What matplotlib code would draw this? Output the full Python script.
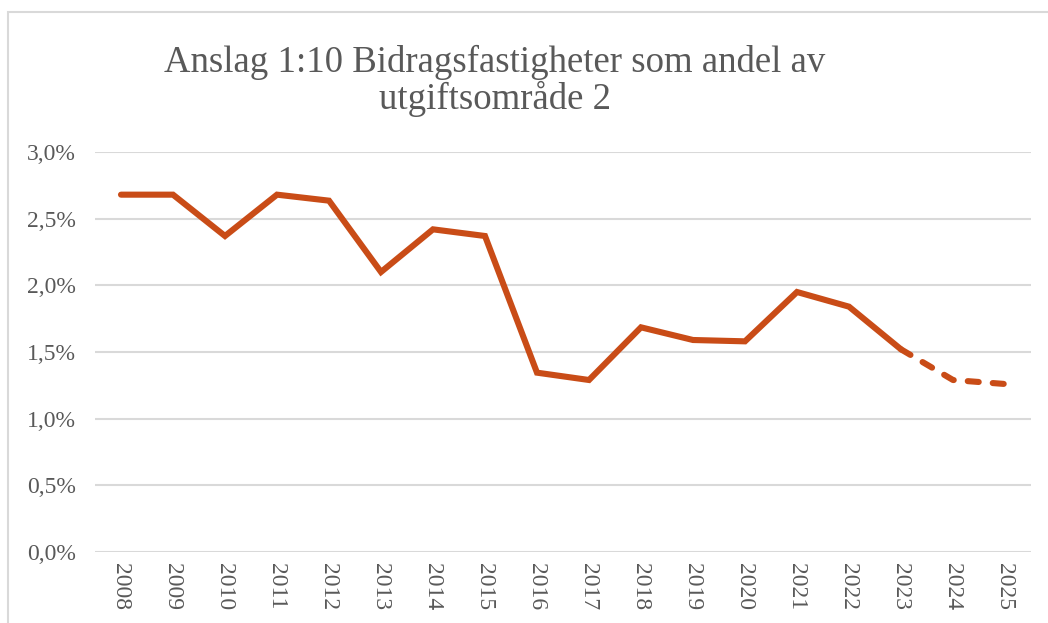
import matplotlib
matplotlib.use("Agg")
import matplotlib.pyplot as plt
from matplotlib.patches import Rectangle
from matplotlib.ticker import FuncFormatter

years = ["2008", "2009", "2010", "2011", "2012", "2013", "2014", "2015", "2016",
         "2017", "2018", "2019", "2020", "2021", "2022", "2023", "2024", "2025"]
share = [2.68, 2.68, 2.37, 2.68, 2.635, 2.10, 2.42, 2.37, 1.345,
         1.29, 1.685, 1.59, 1.58, 1.95, 1.84, 1.52, 1.29, 1.26]
last_actual = "2023"  # dashed after this year (forecast)

title = "Anslag 1:10 Bidragsfastigheter som andel av\nutgiftsområde 2"

plt.rcParams['font.family'] = ['Liberation Serif', 'DejaVu Serif']
text_col = '#595959'
line_col = '#C94C17'
grid_col = '#D9D9D9'

fig = plt.figure(figsize=(10.48, 6.23), dpi=100)
fig.patches.append(Rectangle((8 / 1048, -0.05), 1.1, 1.05 - 12 / 623,
                             transform=fig.transFigure, fill=False,
                             edgecolor=grid_col, linewidth=1.5))

ax = fig.add_axes([95 / 1048, 1 - 552 / 623, (1031 - 95) / 1048, (552 - 152) / 623])

x = list(range(len(years)))
k = years.index(last_actual)
ax.plot(x[:k + 1], share[:k + 1], color=line_col, lw=4.4,
        solid_capstyle='round', solid_joinstyle='miter')
ax.plot(x[k:], share[k:], color=line_col, lw=4.4, dashes=(1.8, 2.3),
        dash_capstyle='round')

ax.set_xlim(-0.5, len(years) - 0.5)
ax.set_ylim(0, 3.0)
ax.set_yticks([0, 0.5, 1.0, 1.5, 2.0, 2.5, 3.0])
ax.yaxis.set_major_formatter(FuncFormatter(lambda v, p: f"{v:.1f}%".replace(".", ",")))
ax.set_xticks(x)
ax.set_xticklabels(years, rotation=270)
ax.tick_params(axis='both', length=0, labelsize=17, colors=text_col)
ax.tick_params(axis='x', pad=8)
ax.tick_params(axis='y', pad=14)

ax.grid(axis='y', color=grid_col, linewidth=1.5)
ax.set_axisbelow(True)
for s in ax.spines.values():
    s.set_visible(False)

fig.text(495 / 1048, 1 - 81 / 623, title, ha='center', va='center',
         fontsize=26.5, color=text_col, linespacing=1.05)

fig.savefig("out.png", dpi=100)
